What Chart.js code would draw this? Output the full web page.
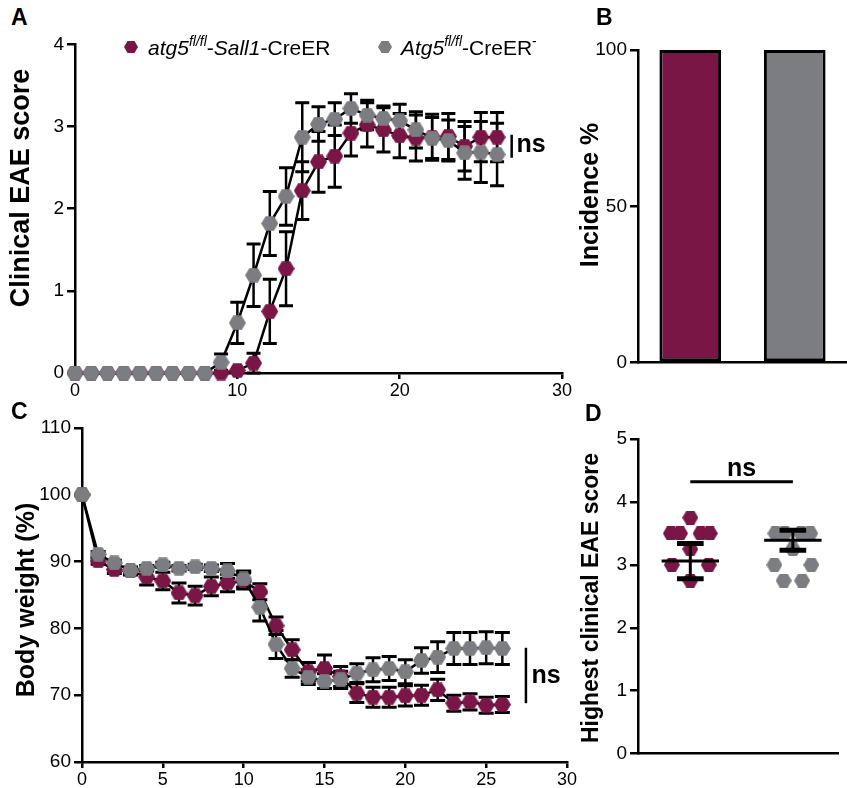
<!DOCTYPE html>
<html>
<head>
<meta charset="utf-8">
<script src="https://cdn.jsdelivr.net/npm/chart.js@4.4.1/dist/chart.umd.min.js"></script>
<style>
  body { margin: 0; background: #fff; width: 847px; height: 788px; position: relative; overflow: hidden;
         font-family: "Liberation Sans", Arial, sans-serif; color: #000; }
  canvas { position: absolute; }
  .lbl { position: absolute; font-weight: bold; font-size: 23px; line-height: 1; }
  .leg { position: absolute; font-size: 21px; line-height: 1; white-space: nowrap; }
  .leg sup { font-size: 14px; vertical-align: baseline; position: relative; top: -9px; }
  .hx { position: absolute; width: 14px; height: 12px;
        clip-path: polygon(25% 0, 75% 0, 100% 50%, 75% 100%, 25% 100%, 0 50%); }
</style>
</head>
<body>
<canvas id="chartA" width="585" height="370" style="left:0;top:30px"></canvas>
<canvas id="chartB" width="272" height="347" style="left:575px;top:30px"></canvas>
<canvas id="chartC" width="590" height="388" style="left:0;top:400px"></canvas>
<canvas id="chartD" width="272" height="368" style="left:575px;top:400px"></canvas>

<div class="lbl" style="left:11px;top:6px">A</div>
<div class="lbl" style="left:596px;top:6px">B</div>
<div class="lbl" style="left:11px;top:400px">C</div>
<div class="lbl" style="left:585px;top:402px">D</div>

<div class="hx" style="left:124px;top:41px;background:#7a1646"></div>
<div class="leg" style="left:148px;top:37px"><i>atg5</i><sup><i>fl/fl</i></sup>-<i>Sall1</i>-CreER</div>
<div class="hx" style="left:378px;top:41px;background:#7c7d82"></div>
<div class="leg" style="left:401px;top:37px"><i>Atg5</i><sup><i>fl/fl</i></sup>-CreER<sup>-</sup></div>

<script>
const FONT = '"Liberation Sans", Arial, sans-serif';
const MAGENTA = '#7a1646';
const GREY = '#7c7d82';

// Panel A - clinical EAE score per day (mean +/- SEM)
const days = [0,1,2,3,4,5,6,7,8,9,10,11,12,13,14,15,16,17,18,19,20,21,22,23,24,25,26];
const scoreSall1 = [0,0,0,0,0,0,0,0,0,0,0.03,0.12,0.75,1.27,2.22,2.57,2.64,2.92,3.02,2.96,2.89,2.86,2.87,2.88,2.76,2.87,2.87];
const semScoreSall1 = [0,0,0,0,0,0,0,0,0,0,0,0.12,0.39,0.45,0.35,0.37,0.38,0.28,0.27,0.27,0.27,0.28,0.28,0.28,0.3,0.3,0.3];
const scoreCre = [0,0,0,0,0,0,0,0,0,0.13,0.61,1.19,1.82,2.15,2.87,3.03,3.09,3.22,3.14,3.1,3.07,2.96,2.86,2.83,2.68,2.69,2.66];
const semScoreCre = [0,0,0,0,0,0,0,0,0,0.1,0.25,0.38,0.39,0.35,0.42,0.21,0.2,0.18,0.18,0.15,0.2,0.22,0.25,0.25,0.32,0.37,0.38];

// Panel B - incidence
const groups = ['atg5 fl/fl-Sall1-CreER', 'Atg5 fl/fl-CreER-'];
const incidence = [100, 100];

// Panel C - body weight (% of day 0)
const weightSall1 = [100,90.1,88.8,88.6,87.7,87.1,85.3,84.9,86.3,86.8,87.1,85.5,80.4,76.8,73.5,74.0,72.8,70.3,69.7,69.7,69.9,70.0,70.8,68.8,69.0,68.5,68.6];
const semWeightSall1 = [0,0.5,0.6,0.6,1.2,1.3,1.5,1.4,1.4,1.3,1.2,1.2,1.3,1.5,1.4,2.0,1.5,1.4,1.5,1.5,1.5,1.5,1.6,1.2,1.2,1.2,1.2];
const weightCre = [100,91.1,89.8,88.7,89.0,89.5,89.0,89.2,89.0,88.6,87.4,83.2,77.6,74.0,72.7,72.1,72.3,73.3,73.8,74.0,73.5,75.2,75.7,77.0,77.0,77.1,77.0];
const semWeightCre = [0,0.4,0.4,0.4,0.4,0.4,0.4,0.4,0.5,1.1,1.2,2.1,2.1,1.3,1.1,1.1,1.3,1.4,1.8,1.8,1.8,1.9,2.3,2.4,2.4,2.4,2.4];

// Panel D - highest clinical score per mouse
const peakSall1 = [3.75,3.5,3.5,3.5,3.5,3.25,3.0,3.0,2.75];
const jitterSall1 = [0,-0.19,-0.1,0.1,0.19,0,-0.18,0.18,0];
const peakCre = [3.5,3.5,3.5,3.5,3.25,3.0,3.0,2.75,2.75];
const jitterCre = [-0.17,-0.08,0.08,0.17,0,-0.18,0.18,-0.09,0.09];
const peakMean = [3.06, 3.39];
const peakSd = [0.28, 0.16];

function hexagon(color, r) {
  const c = document.createElement('canvas');
  c.width = Math.round(2 * r);
  c.height = Math.round(Math.sqrt(3) * r);
  const g = c.getContext('2d');
  g.fillStyle = color;
  g.beginPath();
  for (let i = 0; i < 6; i++) {
    const a = Math.PI / 3 * i;
    g.lineTo(c.width / 2 + r * Math.cos(a), c.height / 2 + r * Math.sin(a));
  }
  g.closePath();
  g.fill();
  return c;
}

// vertical error bars from dataset.errors
const errorBars = {
  id: 'errorBars',
  beforeDatasetsDraw(chart, args, opts) {
    const { ctx, scales: { x, y } } = chart;
    ctx.save();
    ctx.strokeStyle = '#000';
    chart.data.datasets.forEach(ds => {
      if (!ds.errors) return;
      ds.data.forEach((p, i) => {
        const e = ds.errors[i];
        if (!e) return;
        const px = x.getPixelForValue(p.x);
        const top = y.getPixelForValue(p.y + e);
        const bot = y.getPixelForValue(p.y - e);
        ctx.lineWidth = opts.width;
        ctx.beginPath();
        ctx.moveTo(px, top); ctx.lineTo(px, bot);
        ctx.stroke();
        ctx.lineWidth = opts.capWidth;
        ctx.beginPath();
        ctx.moveTo(px - opts.cap / 2, top); ctx.lineTo(px + opts.cap / 2, top);
        ctx.moveTo(px - opts.cap / 2, bot); ctx.lineTo(px + opts.cap / 2, bot);
        ctx.stroke();
      });
    });
    ctx.restore();
  }
};

// "ns" marks
const notes = {
  id: 'notes',
  afterDraw(chart, args, opts) {
    const { ctx, scales: { x, y } } = chart;
    ctx.save();
    ctx.strokeStyle = '#000';
    ctx.fillStyle = '#000';
    ctx.lineWidth = opts.lineWidth || 2.5;
    (opts.lines || []).forEach(l => {
      ctx.beginPath();
      ctx.moveTo(x.getPixelForValue(l[0]), y.getPixelForValue(l[1]));
      ctx.lineTo(x.getPixelForValue(l[2]), y.getPixelForValue(l[3]));
      ctx.stroke();
    });
    ctx.font = 'bold 25px ' + FONT;
    ctx.textBaseline = 'middle';
    (opts.texts || []).forEach(t => {
      ctx.textAlign = t.align || 'left';
      ctx.fillText(t.text, x.getPixelForValue(t.x), y.getPixelForValue(t.y));
    });
    ctx.restore();
  }
};

// rotated y-axis title, placed like the original figure (not centred on the axis)
const yTitle = {
  id: 'yTitle',
  afterDraw(chart, args, opts) {
    if (!opts.text) return;
    const ctx = chart.ctx;
    ctx.save();
    ctx.translate(opts.x, opts.y);
    ctx.rotate(-Math.PI / 2);
    ctx.fillStyle = '#000';
    ctx.font = 'bold ' + opts.size + 'px ' + FONT;
    ctx.textAlign = 'center';
    ctx.textBaseline = 'middle';
    ctx.fillText(opts.text, 0, 0);
    ctx.restore();
  }
};

// mean line and SD bars for panel D
const meanSd = {
  id: 'meanSd',
  afterDatasetsDraw(chart) {
    const { ctx, scales: { x, y } } = chart;
    ctx.save();
    ctx.strokeStyle = '#000';
    peakMean.forEach((m, i) => {
      const gx = i + 1;
      const ym = y.getPixelForValue(m);
      const yt = y.getPixelForValue(m + peakSd[i]);
      const yb = y.getPixelForValue(m - peakSd[i]);
      ctx.lineWidth = 3;
      ctx.beginPath();
      ctx.moveTo(x.getPixelForValue(gx - 0.28), ym); ctx.lineTo(x.getPixelForValue(gx + 0.28), ym);
      ctx.moveTo(x.getPixelForValue(gx), yt); ctx.lineTo(x.getPixelForValue(gx), yb);
      ctx.stroke();
      ctx.lineWidth = 5;
      ctx.beginPath();
      ctx.moveTo(x.getPixelForValue(gx - 0.13), yt); ctx.lineTo(x.getPixelForValue(gx + 0.13), yt);
      ctx.moveTo(x.getPixelForValue(gx - 0.13), yb); ctx.lineTo(x.getPixelForValue(gx + 0.13), yb);
      ctx.stroke();
    });
    ctx.restore();
  }
};

function yAxis(min, max, step, width) {
  return {
    min: min, max: max,
    border: { color: '#000', width: 2.5 },
    grid: { drawOnChartArea: false, drawTicks: true, tickLength: 8, color: '#000', lineWidth: 2.5 },
    ticks: { stepSize: step, color: '#000', padding: 3, font: { family: FONT, size: 19 } },
    afterFit: s => { s.width = width; }
  };
}

function xAxis(min, max, step, height) {
  return {
    type: 'linear', min: min, max: max,
    border: { color: '#000', width: 2.5 },
    grid: { drawOnChartArea: false, drawTicks: true, tickLength: 6, color: '#000', lineWidth: 2.5 },
    ticks: { stepSize: step, color: '#000', padding: 1, font: { family: FONT, size: 18 } },
    afterFit: s => { s.height = height; }
  };
}

function plainX(height) {
  return {
    border: { color: '#000', width: 2.5 },
    grid: { display: false },
    ticks: { display: false },
    afterFit: s => { s.height = height; }
  };
}

function series(ys, errs, color, r, order) {
  return {
    data: days.map((d, i) => ({ x: d, y: ys[i] })),
    errors: errs,
    borderColor: '#000',
    borderWidth: 2.5,
    pointStyle: hexagon(color, r),
    pointRadius: 8,
    order: order,
    clip: false
  };
}

const base = {
  responsive: false,
  animation: false,
  events: [],
};

// A
new Chart(document.getElementById('chartA'), {
  type: 'line',
  data: { datasets: [series(scoreSall1, semScoreSall1, MAGENTA, 8.5, 1), series(scoreCre, semScoreCre, GREY, 8.5, 0)] },
  options: Object.assign({}, base, {
    layout: { padding: { top: 12, right: 23, bottom: 0, left: 0 } },
    scales: { x: xAxis(0, 30, 10, 27), y: yAxis(0, 4, 1, 75) },
    plugins: {
      legend: { display: false }, tooltip: { enabled: false },
      yTitle: { text: 'Clinical EAE score', size: 27, x: 22, y: 158 },
      errorBars: { width: 2.5, capWidth: 3, cap: 14 },
      notes: { lines: [[26.9, 2.62, 26.9, 2.9]], texts: [{ x: 27.2, y: 2.78, text: 'ns' }] }
    }
  }),
  plugins: [errorBars, notes, yTitle]
});

// B
new Chart(document.getElementById('chartB'), {
  type: 'bar',
  data: {
    labels: groups,
    datasets: [{
      data: incidence,
      backgroundColor: [MAGENTA, GREY],
      borderColor: '#000',
      borderWidth: 3,
      borderSkipped: false,
      barPercentage: 0.59,
      categoryPercentage: 1
    }]
  },
  options: Object.assign({}, base, {
    layout: { padding: { top: 20, right: 0, bottom: 0, left: 0 } },
    scales: { x: plainX(4), y: yAxis(0, 100, 50, 63) },
    plugins: {
      legend: { display: false }, tooltip: { enabled: false },
      yTitle: { text: 'Incidence %', size: 25, x: 16, y: 165 }
    }
  }),
  plugins: [yTitle]
});

// C
new Chart(document.getElementById('chartC'), {
  type: 'line',
  data: { datasets: [series(weightSall1, semWeightSall1, MAGENTA, 8.5, 1), series(weightCre, semWeightCre, GREY, 8.5, 0)] },
  options: Object.assign({}, base, {
    layout: { padding: { top: 28, right: 23, bottom: 0, left: 0 } },
    scales: { x: xAxis(0, 30, 5, 26), y: yAxis(60, 110, 10, 82) },
    plugins: {
      legend: { display: false }, tooltip: { enabled: false },
      yTitle: { text: 'Body weight (%)', size: 25, x: 27, y: 200 },
      errorBars: { width: 2.5, capWidth: 3, cap: 15 },
      notes: { lines: [[27.46, 68.8, 27.46, 77.1]], texts: [{ x: 27.8, y: 72.8, text: 'ns' }] }
    }
  }),
  plugins: [errorBars, notes, yTitle]
});

// D
new Chart(document.getElementById('chartD'), {
  type: 'scatter',
  data: {
    datasets: [
      { data: peakSall1.map((v, i) => ({ x: 1 + jitterSall1[i], y: v })), pointStyle: hexagon(MAGENTA, 8), pointRadius: 8, clip: false },
      { data: peakCre.map((v, i) => ({ x: 2 + jitterCre[i], y: v })), pointStyle: hexagon(GREY, 8), pointRadius: 8, clip: false }
    ]
  },
  options: Object.assign({}, base, {
    layout: { padding: { top: 39, right: 0, bottom: 0, left: 0 } },
    scales: {
      x: Object.assign(plainX(4), { type: 'linear', min: 0.49, max: 2.44 }),
      y: yAxis(0, 5, 1, 63)
    },
    plugins: {
      legend: { display: false }, tooltip: { enabled: false },
      yTitle: { text: 'Highest clinical EAE score', size: 23, x: 17, y: 198 },
      notes: { lineWidth: 3, lines: [[1, 4.32, 2, 4.32]], texts: [{ x: 1.5, y: 4.52, text: 'ns', align: 'center' }] }
    }
  }),
  plugins: [meanSd, notes, yTitle]
});
</script>
</body>
</html>
